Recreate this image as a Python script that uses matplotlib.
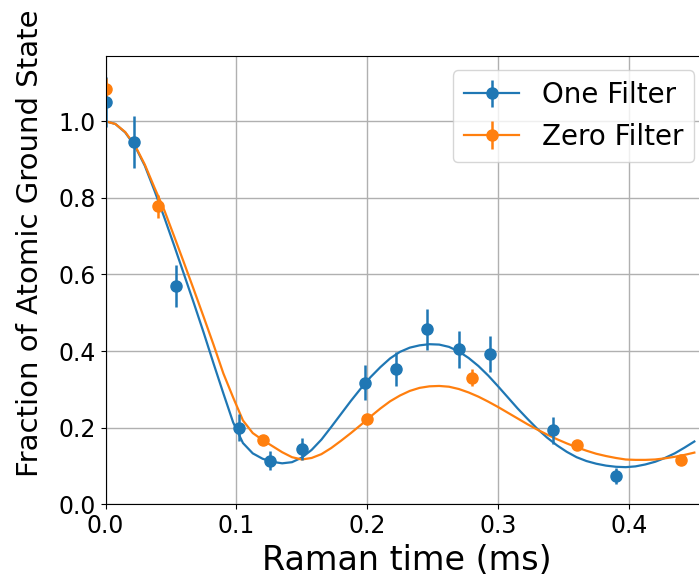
#!/usr/bin/env python3
"""
Raman time vs fraction of atomic ground state (one / zero filter)
"""

import matplotlib
matplotlib.use('Agg')
import matplotlib.pyplot as plt

# 測定点 (One Filter)
one_t = [0.0, 0.022, 0.054, 0.102, 0.126, 0.150, 0.198, 0.222, 0.246, 0.270, 0.294, 0.342, 0.390]
one_y = [1.050, 0.945, 0.571, 0.200, 0.114, 0.144, 0.318, 0.353, 0.457, 0.405, 0.393, 0.193, 0.075]
one_err = [0.065, 0.068, 0.055, 0.035, 0.025, 0.028, 0.045, 0.045, 0.054, 0.048, 0.047, 0.036, 0.021]

# 測定点 (Zero Filter)
zero_t = [0.0, 0.040, 0.120, 0.200, 0.280, 0.360, 0.440]
zero_y = [1.084, 0.778, 0.168, 0.2225, 0.331, 0.155, 0.116]
zero_err = [0.030, 0.030, 0.010, 0.010, 0.022, 0.010, 0.010]

# フィット曲線 (図から読み取り, 0.0075 ms 間隔)
fit_t = [0.0, 0.0075, 0.015, 0.0225, 0.03, 0.0375, 0.045, 0.0525, 0.06, 0.0675,
         0.075, 0.0825, 0.09, 0.0975, 0.105, 0.1125, 0.12, 0.1275, 0.135, 0.1425,
         0.15, 0.1575, 0.165, 0.1725, 0.18, 0.1875, 0.195, 0.2025, 0.21, 0.2175,
         0.225, 0.2325, 0.24, 0.2475, 0.255, 0.2625, 0.27, 0.2775, 0.285, 0.2925,
         0.3, 0.3075, 0.315, 0.3225, 0.33, 0.3375, 0.345, 0.3525, 0.36, 0.3675,
         0.375, 0.3825, 0.39, 0.3975, 0.405, 0.4125, 0.42, 0.4275, 0.435, 0.4425,
         0.45]
one_fit = [1.000, 0.993, 0.971, 0.935, 0.884, 0.818, 0.748, 0.675, 0.600, 0.525,
           0.448, 0.368, 0.290, 0.214, 0.160, 0.133, 0.119, 0.111, 0.107, 0.110,
           0.122, 0.142, 0.169, 0.202, 0.236, 0.270, 0.302, 0.332, 0.358, 0.381,
           0.398, 0.409, 0.415, 0.418, 0.417, 0.411, 0.399, 0.382, 0.361, 0.336,
           0.308, 0.279, 0.250, 0.223, 0.197, 0.174, 0.154, 0.137, 0.123, 0.113,
           0.106, 0.101, 0.098, 0.097, 0.099, 0.104, 0.111, 0.121, 0.133, 0.148,
           0.164]
zero_fit = [1.000, 0.993, 0.972, 0.937, 0.887, 0.826, 0.767, 0.699, 0.630, 0.560,
            0.489, 0.417, 0.342, 0.279, 0.219, 0.186, 0.168, 0.152, 0.136, 0.123,
            0.117, 0.121, 0.131, 0.147, 0.166, 0.186, 0.207, 0.229, 0.250, 0.269,
            0.284, 0.296, 0.304, 0.308, 0.309, 0.307, 0.301, 0.292, 0.281, 0.268,
            0.254, 0.239, 0.224, 0.209, 0.195, 0.182, 0.170, 0.159, 0.149, 0.140,
            0.132, 0.126, 0.121, 0.117, 0.116, 0.116, 0.117, 0.120, 0.124, 0.129,
            0.135]

BLUE = '#1f77b4'
ORANGE = '#ff7f0e'

fig = plt.figure(figsize=(6.99, 5.79), dpi=100)
# 右端は画像の外まで伸びている (元図はトリミングされている)
ax = fig.add_axes([0.151, 0.129, 0.862, 0.774])

l1, = ax.plot(fit_t, one_fit, color=BLUE, lw=1.6)
l2, = ax.plot(fit_t, zero_fit, color=ORANGE, lw=1.6)
e1 = ax.errorbar(one_t, one_y, yerr=one_err, fmt='o', color=BLUE, ms=8, elinewidth=1.8)
e2 = ax.errorbar(zero_t, zero_y, yerr=zero_err, fmt='o', color=ORANGE, ms=8, elinewidth=1.8)

ax.set_xlim(0, 0.4605)
ax.set_ylim(0, 1.17)
ax.set_xticks([0.0, 0.1, 0.2, 0.3, 0.4])
ax.set_yticks([0.0, 0.2, 0.4, 0.6, 0.8, 1.0])
ax.tick_params(labelsize=17)
ax.grid(True, color='#b0b0b0', lw=1.0)
ax.set_axisbelow(True)

ax.set_xlabel('Raman time (ms)', fontsize=24)
ax.set_ylabel('Fraction of Atomic Ground State', fontsize=21, y=0.583, labelpad=10)

ax.legend([(l1, e1), (l2, e2)], ['One Filter', 'Zero Filter'],
          loc='upper right', fontsize=20, handlelength=2.0)

fig.savefig('out.png', dpi=100)
